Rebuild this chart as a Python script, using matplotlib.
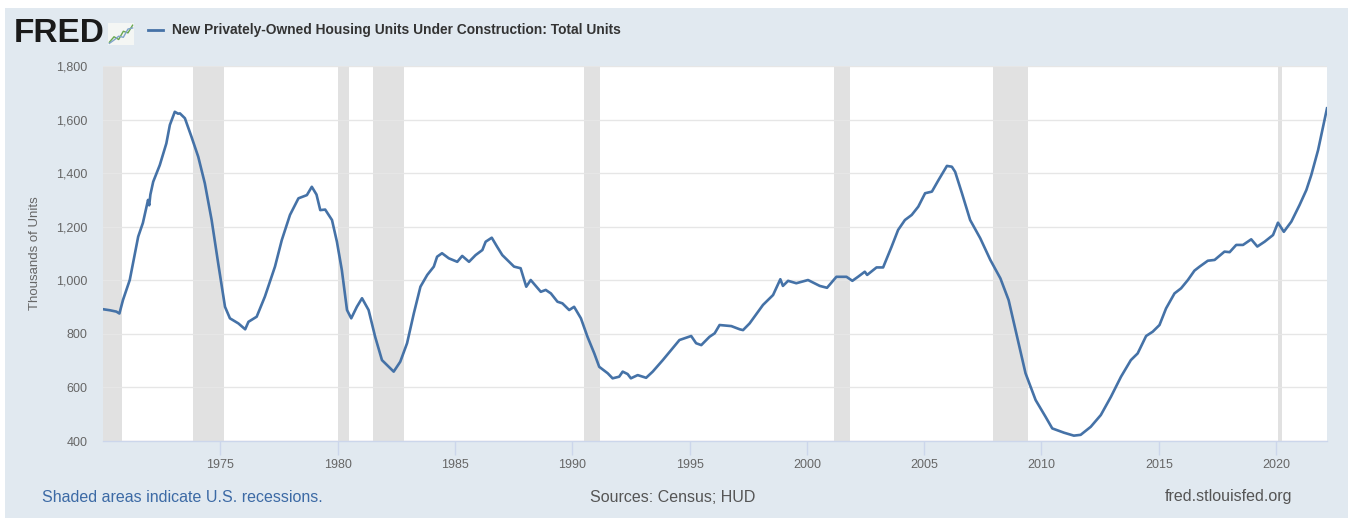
import matplotlib
matplotlib.use("Agg")
import matplotlib.pyplot as plt
from matplotlib.ticker import FuncFormatter, MultipleLocator
import matplotlib.patches as mpatches

# series: New Privately-Owned Housing Units Under Construction (thousands)
dates = [1970.00, 1970.30, 1970.57, 1970.70, 1970.85, 1971.14, 1971.50, 1971.70, 1971.92, 1971.97,
         1972.02, 1972.14, 1972.42, 1972.70, 1972.85, 1973.06, 1973.20, 1973.28, 1973.49, 1973.77,
         1974.06, 1974.34, 1974.63, 1974.91, 1975.20, 1975.41, 1975.77, 1976.06, 1976.20, 1976.55,
         1976.90, 1977.33, 1977.62, 1977.97, 1978.33, 1978.69, 1978.90, 1979.10, 1979.26, 1979.47,
         1979.76, 1979.97, 1980.18, 1980.40, 1980.58, 1980.82, 1981.04, 1981.32, 1981.60, 1981.89,
         1982.18, 1982.39, 1982.67, 1982.96, 1983.25, 1983.53, 1983.82, 1984.10, 1984.24, 1984.45,
         1984.74, 1985.10, 1985.31, 1985.60, 1985.88, 1986.17, 1986.31, 1986.57, 1986.80, 1987.02,
         1987.16, 1987.52, 1987.80, 1988.04, 1988.23, 1988.66, 1988.87, 1989.09, 1989.37, 1989.58,
         1989.87, 1990.08, 1990.37, 1990.65, 1990.94, 1991.15, 1991.51, 1991.72, 1992.00, 1992.15,
         1992.36, 1992.50, 1992.79, 1993.15, 1993.43, 1993.86, 1994.22, 1994.57, 1995.07, 1995.28,
         1995.50, 1995.85, 1996.07, 1996.28, 1996.78, 1997.14, 1997.28, 1997.56, 1998.13, 1998.56,
         1998.87, 1998.98, 1999.20, 1999.55, 2000.05, 2000.55, 2000.86, 2001.26, 2001.69, 2001.94,
         2002.18, 2002.47, 2002.57, 2002.97, 2003.25, 2003.61, 2003.89, 2004.18, 2004.47, 2004.75,
         2005.04, 2005.33, 2005.61, 2005.97, 2006.18, 2006.32, 2006.61, 2006.96, 2007.39, 2007.82,
         2008.25, 2008.60, 2008.96, 2009.32, 2009.75, 2010.17, 2010.46, 2010.96, 2011.38, 2011.67,
         2012.10, 2012.53, 2012.96, 2013.39, 2013.81, 2014.10, 2014.46, 2014.74, 2015.03, 2015.31,
         2015.67, 2015.95, 2016.24, 2016.52, 2016.74, 2017.09, 2017.38, 2017.80, 2018.02, 2018.30,
         2018.59, 2018.94, 2019.20, 2019.51, 2019.87, 2020.08, 2020.33, 2020.65, 2021.00, 2021.29,
         2021.50, 2021.79, 2022.17]
units = [892, 888, 883, 876, 926, 1001, 1163, 1214, 1300, 1280,
         1320, 1368, 1430, 1511, 1580, 1629, 1622, 1623, 1605, 1536,
         1461, 1362, 1225, 1063, 901, 858, 839, 817, 845, 864,
         939, 1051, 1150, 1244, 1306, 1318, 1349, 1320, 1262, 1264,
         1225, 1144, 1038, 889, 858, 901, 933, 889, 789, 702,
         677, 659, 696, 765, 877, 976, 1020, 1051, 1088, 1101,
         1082, 1069, 1091, 1069, 1094, 1113, 1144, 1159, 1125, 1094,
         1082, 1051, 1045, 976, 1001, 957, 964, 951, 920, 914,
         889, 901, 858, 789, 727, 677, 653, 634, 640, 659,
         650, 634, 646, 636, 659, 702, 740, 777, 792, 765,
         758, 789, 802, 833, 829, 817, 814, 839, 908, 945,
         1004, 979, 998, 989, 1001, 979, 972, 1013, 1013, 998,
         1013, 1032, 1020, 1048, 1048, 1125, 1188, 1225, 1244, 1275,
         1325, 1331, 1374, 1427, 1424, 1405, 1325, 1225, 1157, 1076,
         1007, 926, 789, 653, 553, 491, 447, 431, 420, 423,
         453, 497, 565, 640, 702, 727, 792, 808, 833, 895,
         951, 970, 1001, 1036, 1051, 1073, 1076, 1107, 1105, 1132,
         1132, 1153, 1126, 1144, 1169, 1215, 1181, 1219, 1281, 1337,
         1393, 1486, 1642]

# NBER recessions (start, end)
rec_start = [1969.92, 1973.83, 1980.00, 1981.50, 1990.50, 2001.17, 2007.92, 2020.08]
rec_end = [1970.83, 1975.17, 1980.50, 1982.83, 1991.17, 2001.83, 2009.42, 2020.25]

years_ticks = [1975, 1980, 1985, 1990, 1995, 2000, 2005, 2010, 2015, 2020]

bg = "#e1e9f0"
line_col = "#4572a7"

fig = plt.figure(figsize=(13.48, 5.18), dpi=100)
fig.patch.set_facecolor(bg)
# white margins of the screenshot
fig.patches.append(mpatches.Rectangle((0, 1 - 8 / 518), 1, 8 / 518, transform=fig.transFigure,
                                      facecolor="white", edgecolor="none", zorder=0))
fig.patches.append(mpatches.Rectangle((0, 0), 5 / 1348, 1, transform=fig.transFigure,
                                      facecolor="white", edgecolor="none", zorder=0))

ax = fig.add_axes([103 / 1348, 77 / 518, 1224 / 1348, 375 / 518])
ax.set_facecolor("white")

for s, e in zip(rec_start, rec_end):
    ax.axvspan(s, e, color="#e1e1e1", lw=0, zorder=1)

ax.plot(dates, units, color=line_col, lw=1.9, zorder=3)

ax.set_xlim(1970.0, 2022.17)
ax.set_ylim(400, 1800)
ax.yaxis.set_major_locator(MultipleLocator(200))
ax.yaxis.set_major_formatter(FuncFormatter(lambda v, p: f"{int(v):,}"))
ax.set_xticks(years_ticks)
ax.set_xticklabels([str(y) for y in years_ticks])
ax.grid(axis="y", color="#e6e6e6", lw=1, zorder=2)
ax.set_axisbelow(False)

for side in ["top", "right", "left"]:
    ax.spines[side].set_visible(False)
ax.spines["bottom"].set_color("#ccd6eb")
ax.spines["bottom"].set_linewidth(1)

ax.tick_params(axis="y", length=0, pad=11, labelsize=9, labelcolor="#666666")
ax.tick_params(axis="x", length=10, width=1, color="#ccd6eb", pad=3, labelsize=9, labelcolor="#666666")
for t in ax.get_xticklabels() + ax.get_yticklabels():
    t.set_fontfamily("Liberation Sans")

ax.set_ylabel("Thousands of Units", fontsize=9.5, color="#666666", family="Liberation Sans", labelpad=11)

# header
fig.text(14 / 1348, 1 - 33 / 518, "FRED", fontsize=24, fontweight="bold", color="#1a1a1a",
         family="Liberation Sans", va="center", ha="left")
icon = fig.add_axes([108 / 1348, 1 - 45 / 518, 26 / 1348, 22 / 518])
icon.set_facecolor("#f4f6f4")
icon.plot([0, 1, 2, 3, 4, 5], [0.5, 1.5, 1.0, 2.5, 2.2, 3.6], color="#6aa84f", lw=1)
icon.plot([0, 1, 2, 3, 4, 5], [0.3, 0.9, 1.6, 1.4, 2.9, 3.1], color="#7fa4c9", lw=1)
icon.set_xlim(-0.3, 5.3)
icon.set_ylim(0, 4)
icon.set_xticks([])
icon.set_yticks([])
for sp in icon.spines.values():
    sp.set_visible(False)

fig.lines.append(plt.Line2D([148 / 1348, 163 / 1348], [1 - 30 / 518, 1 - 30 / 518],
                            transform=fig.transFigure, color=line_col, lw=2))
fig.text(172 / 1348, 1 - 30 / 518, "New Privately-Owned Housing Units Under Construction: Total Units",
         fontsize=9.9, fontweight="bold", color="#333333", family="Liberation Sans", va="center", ha="left")

# footer
fig.text(42 / 1348, 1 - 497 / 518, "Shaded areas indicate U.S. recessions.", fontsize=11.5,
         color="#3c6aa5", family="Liberation Sans", va="center", ha="left")
fig.text(673 / 1348, 1 - 497 / 518, "Sources: Census; HUD", fontsize=11.5,
         color="#555555", family="Liberation Sans", va="center", ha="center")
fig.text(1292 / 1348, 1 - 497 / 518, "fred.stlouisfed.org", fontsize=11.5,
         color="#555555", family="Liberation Sans", va="center", ha="right")

fig.savefig("out.png", dpi=100, facecolor=fig.get_facecolor())
